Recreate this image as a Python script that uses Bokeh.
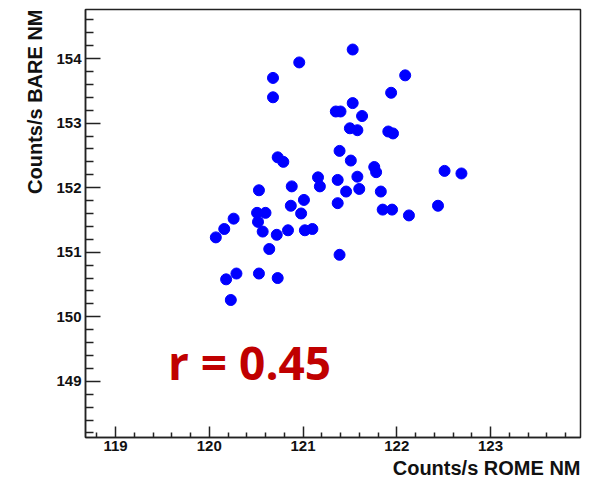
from bokeh.plotting import figure
from bokeh.models import Range1d, FixedTicker, Label, Title
from bokeh.embed import file_html
from bokeh.resources import INLINE

# Counts/s ROME NM (x) vs Counts/s BARE NM (y)
rome = [121.53, 120.96, 120.68, 120.68, 122.09, 121.94, 121.53, 121.35, 121.40, 121.63,
        121.50, 121.58, 121.91, 121.96, 121.39, 120.73, 120.79, 121.51, 121.76, 121.78,
        122.51, 122.69, 121.16, 121.18, 121.37, 121.58, 120.53, 120.88, 121.46, 121.60,
        121.83, 121.01, 120.87, 121.37, 122.44, 120.51, 120.60, 120.98, 121.85, 121.95,
        122.13, 120.26, 120.52, 120.16, 120.57, 120.72, 120.84, 121.02, 121.10, 120.07,
        120.64, 121.39, 120.18, 120.29, 120.53, 120.73, 120.23]
bare = [154.14, 153.94, 153.70, 153.40, 153.74, 153.47, 153.31, 153.18, 153.18, 153.11,
        152.92, 152.89, 152.87, 152.84, 152.57, 152.47, 152.40, 152.42, 152.32, 152.24,
        152.26, 152.22, 152.16, 152.02, 152.12, 152.17, 151.96, 152.02, 151.94, 151.98,
        151.94, 151.81, 151.72, 151.76, 151.72, 151.61, 151.61, 151.60, 151.66, 151.66,
        151.57, 151.52, 151.47, 151.36, 151.32, 151.27, 151.34, 151.34, 151.36, 151.23,
        151.05, 150.96, 150.58, 150.67, 150.67, 150.60, 150.26]

x_ticks = [119, 120, 121, 122, 123]
y_ticks = [149, 150, 151, 152, 153, 154]
annotation = "r = 0.45"
x_title = "Counts/s ROME NM"
y_title = "Counts/s BARE NM"

x_minor = [round(118.8 + 0.2 * i, 1) for i in range(27)]
x_minor = [v for v in x_minor if abs(v - round(v)) > 1e-6]
y_minor = [round(148.2 + 0.2 * i, 1) for i in range(33)]
y_minor = [v for v in y_minor if abs(v - round(v)) > 1e-6]

p = figure(width=605, height=485, output_backend="svg", toolbar_location=None,
           x_range=Range1d(118.68, 123.96), y_range=Range1d(148.13, 154.76),
           min_border_left=85, min_border_right=25, min_border_top=9, min_border_bottom=48)
p.background_fill_color = "white"
p.border_fill_color = "white"
p.grid.visible = False
p.outline_line_color = "#222222"
p.outline_line_width = 1.5

for ax in (p.xaxis[0], p.yaxis[0]):
    ax.axis_line_color = "#222222"
    ax.axis_line_width = 1.5
    ax.major_tick_line_color = "#222222"
    ax.minor_tick_line_color = "#222222"
    ax.major_tick_line_width = 1.5
    ax.minor_tick_line_width = 1.5
    ax.major_tick_out = 0
    ax.minor_tick_out = 0
    ax.major_label_text_font = "Liberation Sans"
    ax.major_label_text_font_style = "bold"
    ax.major_label_text_font_size = "15px"
    ax.major_label_text_color = "#111111"

p.xaxis[0].ticker = FixedTicker(ticks=x_ticks, minor_ticks=x_minor)
p.yaxis[0].ticker = FixedTicker(ticks=y_ticks, minor_ticks=y_minor)
p.xaxis[0].major_tick_in = 11
p.xaxis[0].minor_tick_in = 5
p.yaxis[0].major_tick_in = 15
p.yaxis[0].minor_tick_in = 8
p.xaxis[0].major_label_standoff = 3
p.yaxis[0].major_label_standoff = 4

p.scatter(rome, bare, marker="circle", size=11, fill_color="#0000FF", line_color="#0000FF")

p.add_layout(Label(x=119.56, y=149.30, text=annotation, text_font="Open Sans",
                   text_font_style="bold", text_font_size="46px", text_color="#C00000",
                   text_baseline="alphabetic", text_align="left"))

p.add_layout(Title(text=x_title, align="right", text_font="Liberation Sans",
                   text_font_style="bold", text_font_size="20px", text_color="#111111",
                   standoff=2), "below")
p.add_layout(Title(text=y_title, align="right", text_font="Liberation Sans",
                   text_font_style="bold", text_font_size="20px", text_color="#111111",
                   standoff=16), "left")

open("out.html", "w").write(file_html(p, INLINE))
